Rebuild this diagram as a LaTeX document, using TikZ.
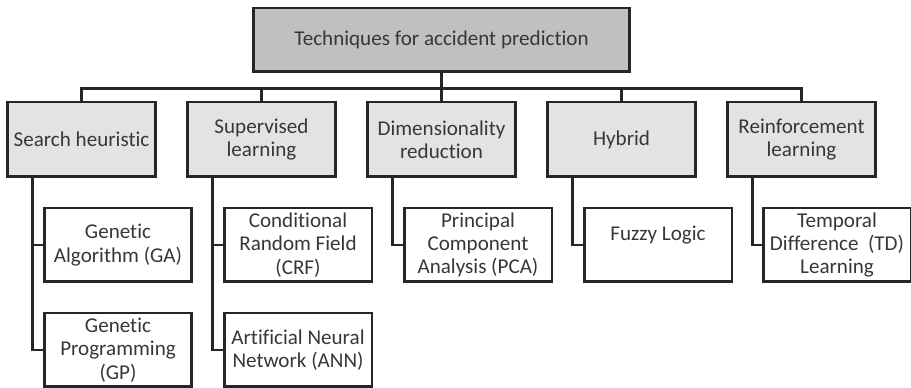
\documentclass[tikz,border=0pt]{standalone}
\usepackage{fontspec}
\setmainfont[Ligatures=NoCommon]{Carlito}
\definecolor{rootgray}{RGB}{192,192,192}
\definecolor{catgray}{RGB}{227,227,227}
\definecolor{txtgray}{RGB}{55,55,55}
\tikzset{
    box/.style={draw=black!85,line width=1.7pt,align=center,text=txtgray,
        font=\fontsize{12}{13.3}\selectfont,inner sep=1pt,
        minimum width=2.96cm,minimum height=1.48cm},
    catbox/.style={box,fill=catgray,minimum height=1.5cm},
    rootbox/.style={box,fill=rootgray,minimum width=7.54cm,minimum height=1.28cm},
    link/.style={draw=black!85,line width=1.7pt}
}
\begin{document}
\begin{tikzpicture}[x=0.02cm,y=0.02cm]
    \useasboundingbox (0,0) rectangle (911,388);
    \node[rootbox] (root) at (441.5,348) {Techniques for accident prediction};

    \node[catbox] (search) at (81.5,248.5) {Search heuristic};
    \node[catbox] (superv) at (261.5,248.5) {Supervised\\learning};
    \node[catbox] (dimred) at (441.5,248.5) {Dimensionality\\reduction};
    \node[catbox] (hybrid) at (621.5,248.5) {Hybrid};
    \node[catbox] (reinf) at (801.5,248.5) {Reinforcement\\learning};

    \node[box] (ga) at (118,143) {Genetic\\Algorithm (GA)};
    \node[box] (crf) at (298,143) {Conditional\\Random Field\\(CRF)};
    \node[box] (pca) at (478,143) {Principal\\Component\\Analysis (PCA)};
    \node[box] (fuzzy) at (658,143) {Fuzzy Logic\\ \mbox{}};
    \node[box] (td) at (837,143) {Temporal\\Difference~ (TD)\\Learning};

    \node[box] (gp) at (118,38) {Genetic\\Programming\\(GP)};
    \node[box] (ann) at (298,38) {Artificial Neural\\Network (ANN)};

    \foreach \c in {search,superv,dimred,hybrid,reinf}
        \draw[link] (root.south) -- ++(0,-15) -| (\c.north);

    \draw[link] ([xshift=15]search.south west) |- (ga.west);
    \draw[link] ([xshift=15]search.south west) |- (gp.west);
    \draw[link] ([xshift=15]superv.south west) |- (crf.west);
    \draw[link] ([xshift=15]superv.south west) |- (ann.west);
    \draw[link] ([xshift=15]dimred.south west) |- (pca.west);
    \draw[link] ([xshift=15]hybrid.south west) |- (fuzzy.west);
    \draw[link] ([xshift=15]reinf.south west) |- (td.west);
\end{tikzpicture}
\end{document}
